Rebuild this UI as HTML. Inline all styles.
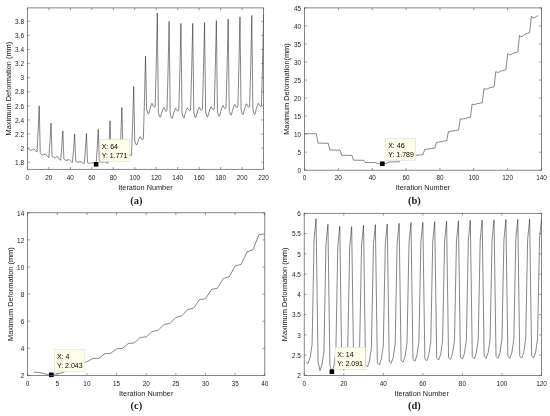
<!DOCTYPE html>
<html><head><meta charset="utf-8"><title>Figure</title>
<style>
html,body{margin:0;padding:0;background:#fff;}
body{width:550px;height:416px;overflow:hidden;}
svg{display:block;font-family:"Liberation Sans",sans-serif;}
</style></head><body>
<svg width="550" height="416" viewBox="0 0 550 416">
<rect width="550" height="416" fill="#fff"/>
<polyline points="27.40,147.24 28.47,148.86 29.55,149.99 30.62,150.41 31.69,150.06 32.77,149.42 33.84,148.86 34.92,150.13 35.99,151.19 37.06,151.89 38.14,131.18 39.21,105.87 40.28,153.16 41.36,154.43 42.43,155.00 43.50,154.78 44.58,154.08 45.65,153.95 46.73,155.48 47.80,156.74 48.87,157.53 49.95,142.05 51.02,123.14 52.09,155.77 53.17,157.10 54.24,157.69 55.31,157.46 56.39,156.73 57.46,156.59 58.54,158.20 59.61,159.52 60.68,160.35 61.76,147.09 62.83,130.89 63.90,159.08 64.98,160.00 66.05,160.41 67.12,160.25 68.20,159.75 69.27,159.65 70.35,160.76 71.42,161.68 72.49,162.25 73.57,149.57 74.64,134.06 75.71,161.19 76.79,161.91 77.86,162.23 78.93,162.11 80.01,161.71 81.08,161.64 82.16,162.50 83.23,163.22 84.30,163.66 85.38,150.12 86.45,133.57 87.52,162.46 88.60,162.99 89.67,163.23 90.74,163.14 91.82,162.85 92.89,162.79 93.97,163.43 95.04,163.97 96.11,164.30 97.19,148.53 98.26,129.27 99.33,161.55 100.41,162.06 101.48,162.29 102.55,162.20 103.63,161.92 104.70,161.86 105.78,162.48 106.85,162.99 107.92,163.31 109.00,144.18 110.07,120.81 111.14,158.73 112.22,159.14 113.29,159.32 114.36,159.25 115.44,159.02 116.51,158.98 117.59,159.48 118.66,159.88 119.73,160.14 120.81,136.45 121.88,107.49 122.95,154.85 124.03,154.99 125.10,155.06 126.17,155.03 127.25,154.96 128.32,154.94 129.40,155.11 130.47,155.26 131.54,155.34 132.62,124.36 133.69,86.49 134.76,140.90 135.84,144.39 136.91,144.84 137.98,141.46 139.06,138.75 140.13,136.67 141.21,138.22 142.28,139.77 143.35,138.92 144.43,101.66 145.50,56.11 146.57,108.73 147.65,113.25 148.72,113.83 149.79,109.46 150.87,105.96 151.94,103.26 153.02,105.27 154.09,107.28 155.16,106.43 156.24,64.41 157.31,13.05 158.38,112.48 159.46,116.61 160.53,117.14 161.60,113.15 162.68,109.95 163.75,107.49 164.83,109.50 165.90,111.51 166.97,110.66 168.05,70.44 169.12,21.29 170.19,113.44 171.27,117.72 172.34,118.27 173.41,114.13 174.49,110.82 175.56,108.26 176.64,109.71 177.71,111.15 178.78,110.31 179.86,71.20 180.93,23.41 182.00,113.02 183.08,117.30 184.15,117.85 185.22,113.71 186.30,110.39 187.37,107.84 188.45,109.32 189.52,110.80 190.59,109.96 191.67,71.01 192.74,23.41 193.81,112.53 194.89,116.87 195.96,117.43 197.03,113.23 198.11,109.87 199.18,107.28 200.26,108.83 201.33,110.38 202.40,109.53 203.48,70.36 204.55,22.49 205.62,111.93 206.70,116.30 207.77,116.86 208.84,112.63 209.92,109.25 210.99,106.64 212.07,108.26 213.14,109.89 214.21,109.04 215.29,69.24 216.36,20.59 217.43,111.02 218.51,115.63 219.58,116.23 220.65,111.77 221.73,108.20 222.80,105.44 223.88,107.07 224.95,108.69 226.02,107.84 227.10,67.85 228.17,18.97 229.24,109.89 230.32,114.38 231.39,114.96 232.46,110.61 233.54,107.14 234.61,104.46 235.69,106.08 236.76,107.70 237.83,106.85 238.91,66.32 239.98,16.78 241.05,109.33 242.13,113.94 243.20,114.54 244.27,110.07 245.35,106.50 246.42,103.75 247.50,105.52 248.57,107.28 249.64,106.43 250.72,65.52 251.79,15.51 252.86,108.98 253.94,113.71 255.01,114.33 256.08,109.75 257.16,106.08 258.23,103.26 259.31,104.95 260.38,106.64 261.45,105.80 262.53,64.60 263.60,14.24" fill="none" stroke="#222" stroke-width="0.55" stroke-linejoin="round"/>
<rect x="100.00" y="139.30" width="29.40" height="22.30" fill="#fdfdea" stroke="#d8d8cc" stroke-width="0.5"/>
<text x="101.65" y="149.20" font-size="7.0" fill="#000">X: 64</text>
<text x="101.65" y="157.90" font-size="7.0" fill="#000">Y: 1.771</text>
<rect x="93.81" y="162.00" width="4.6" height="4.6" fill="#000"/>
<rect x="27.40" y="7.90" width="236.20" height="161.40" fill="none" stroke="#555" stroke-width="0.7"/>
<text x="27.40" y="179.70" font-size="6.4" text-anchor="middle" fill="#1a1a1a">0</text>
<text x="48.87" y="179.70" font-size="6.4" text-anchor="middle" fill="#1a1a1a">20</text>
<text x="70.35" y="179.70" font-size="6.4" text-anchor="middle" fill="#1a1a1a">40</text>
<text x="91.82" y="179.70" font-size="6.4" text-anchor="middle" fill="#1a1a1a">60</text>
<text x="113.29" y="179.70" font-size="6.4" text-anchor="middle" fill="#1a1a1a">80</text>
<text x="134.76" y="179.70" font-size="6.4" text-anchor="middle" fill="#1a1a1a">100</text>
<text x="156.24" y="179.70" font-size="6.4" text-anchor="middle" fill="#1a1a1a">120</text>
<text x="177.71" y="179.70" font-size="6.4" text-anchor="middle" fill="#1a1a1a">140</text>
<text x="199.18" y="179.70" font-size="6.4" text-anchor="middle" fill="#1a1a1a">160</text>
<text x="220.65" y="179.70" font-size="6.4" text-anchor="middle" fill="#1a1a1a">180</text>
<text x="242.13" y="179.70" font-size="6.4" text-anchor="middle" fill="#1a1a1a">200</text>
<text x="263.60" y="179.70" font-size="6.4" text-anchor="middle" fill="#1a1a1a">220</text>
<text x="24.00" y="164.95" font-size="6.4" text-anchor="end" fill="#1a1a1a">1.8</text>
<text x="24.00" y="150.86" font-size="6.4" text-anchor="end" fill="#1a1a1a">2</text>
<text x="24.00" y="136.76" font-size="6.4" text-anchor="end" fill="#1a1a1a">2.2</text>
<text x="24.00" y="122.66" font-size="6.4" text-anchor="end" fill="#1a1a1a">2.4</text>
<text x="24.00" y="108.57" font-size="6.4" text-anchor="end" fill="#1a1a1a">2.6</text>
<text x="24.00" y="94.47" font-size="6.4" text-anchor="end" fill="#1a1a1a">2.8</text>
<text x="24.00" y="80.38" font-size="6.4" text-anchor="end" fill="#1a1a1a">3</text>
<text x="24.00" y="66.28" font-size="6.4" text-anchor="end" fill="#1a1a1a">3.2</text>
<text x="24.00" y="52.18" font-size="6.4" text-anchor="end" fill="#1a1a1a">3.4</text>
<text x="24.00" y="38.09" font-size="6.4" text-anchor="end" fill="#1a1a1a">3.6</text>
<text x="24.00" y="23.99" font-size="6.4" text-anchor="end" fill="#1a1a1a">3.8</text>
<path d="M27.40,169.30v-2.3M27.40,7.90v2.3M48.87,169.30v-2.3M48.87,7.90v2.3M70.35,169.30v-2.3M70.35,7.90v2.3M91.82,169.30v-2.3M91.82,7.90v2.3M113.29,169.30v-2.3M113.29,7.90v2.3M134.76,169.30v-2.3M134.76,7.90v2.3M156.24,169.30v-2.3M156.24,7.90v2.3M177.71,169.30v-2.3M177.71,7.90v2.3M199.18,169.30v-2.3M199.18,7.90v2.3M220.65,169.30v-2.3M220.65,7.90v2.3M242.13,169.30v-2.3M242.13,7.90v2.3M263.60,169.30v-2.3M263.60,7.90v2.3M27.40,162.25h2.3M263.60,162.25h-2.3M27.40,148.16h2.3M263.60,148.16h-2.3M27.40,134.06h2.3M263.60,134.06h-2.3M27.40,119.96h2.3M263.60,119.96h-2.3M27.40,105.87h2.3M263.60,105.87h-2.3M27.40,91.77h2.3M263.60,91.77h-2.3M27.40,77.68h2.3M263.60,77.68h-2.3M27.40,63.58h2.3M263.60,63.58h-2.3M27.40,49.48h2.3M263.60,49.48h-2.3M27.40,35.39h2.3M263.60,35.39h-2.3M27.40,21.29h2.3M263.60,21.29h-2.3" stroke="#555" stroke-width="0.6" fill="none"/>
<text x="145.50" y="189.90" font-size="7.3" text-anchor="middle" fill="#1a1a1a">Iteration Number</text>
<text transform="translate(10.50,88.60) rotate(-90)" font-size="7.4" text-anchor="middle" fill="#1a1a1a">Maximum Deformation (mm)</text>
<text x="136.30" y="204.00" font-size="10.5" font-weight="bold" text-anchor="middle" fill="#222" style="font-family:'Liberation Serif',serif">(a)</text>
<polyline points="304.50,133.66 306.19,133.68 307.89,133.70 309.58,133.71 311.27,133.73 312.96,133.74 314.66,133.76 316.35,133.77 318.04,143.15 319.74,143.17 321.43,143.20 323.12,143.22 324.81,143.25 326.51,143.27 328.20,143.29 329.89,150.00 331.59,150.03 333.28,150.05 334.97,150.07 336.66,150.10 338.36,150.12 340.05,150.15 341.74,155.27 343.44,155.28 345.13,155.29 346.82,155.30 348.51,155.32 350.21,155.33 351.90,155.34 353.59,160.17 355.29,160.20 356.98,160.22 358.67,160.25 360.36,160.27 362.06,160.29 363.75,160.32 365.44,162.52 367.14,162.53 368.83,162.54 370.52,162.55 372.21,162.57 373.91,162.58 375.60,162.59 377.29,163.24 378.99,163.64 380.68,163.71 382.37,163.75 384.06,163.71 385.76,163.49 387.45,162.91 389.14,161.98 390.84,161.95 392.53,161.92 394.22,161.89 395.91,161.86 397.61,161.83 399.30,161.80 400.99,159.38 402.69,159.29 404.38,159.20 406.07,159.11 407.76,159.02 409.46,158.93 411.15,158.84 412.84,155.77 414.54,155.57 416.23,155.38 417.92,155.18 419.61,154.98 421.31,154.78 423.00,154.58 424.69,149.53 426.39,149.28 428.08,149.03 429.77,148.78 431.46,148.52 433.16,148.27 434.85,148.02 436.54,142.54 438.24,142.22 439.93,141.91 441.62,141.60 443.31,141.29 445.01,140.97 446.70,140.66 448.39,131.75 450.09,131.48 451.78,131.20 453.47,130.92 455.16,130.65 456.86,130.37 458.55,130.09 460.24,118.95 461.94,119.09 463.63,118.79 465.32,118.23 467.01,117.88 468.71,117.53 470.40,117.18 472.09,104.13 473.79,104.48 475.48,104.26 477.17,103.68 478.86,103.38 480.56,103.09 482.25,102.79 483.94,88.58 485.64,89.15 487.33,88.85 489.02,88.00 490.71,87.60 492.41,87.19 494.10,86.78 495.79,71.59 497.49,72.44 499.18,72.12 500.87,71.09 502.56,70.63 504.26,70.18 505.95,69.72 507.64,53.70 509.34,54.85 511.03,54.55 512.72,53.34 514.41,52.86 516.11,52.38 517.80,51.90 519.49,35.45 521.19,36.68 522.88,36.18 524.57,34.59 526.26,33.87 527.96,33.15 529.65,32.43 531.34,16.34 533.04,17.84 534.73,17.60 536.42,16.29 538.11,15.83" fill="none" stroke="#222" stroke-width="0.55" stroke-linejoin="round"/>
<rect x="385.10" y="138.50" width="30.50" height="22.20" fill="#fdfdea" stroke="#d8d8cc" stroke-width="0.5"/>
<text x="388.20" y="148.40" font-size="7.0" fill="#000">X: 46</text>
<text x="388.20" y="157.10" font-size="7.0" fill="#000">Y: 1.789</text>
<rect x="380.07" y="161.45" width="4.6" height="4.6" fill="#000"/>
<rect x="304.50" y="7.90" width="237.00" height="162.30" fill="none" stroke="#555" stroke-width="0.7"/>
<text x="304.50" y="180.40" font-size="6.4" text-anchor="middle" fill="#1a1a1a">0</text>
<text x="338.36" y="180.40" font-size="6.4" text-anchor="middle" fill="#1a1a1a">20</text>
<text x="372.21" y="180.40" font-size="6.4" text-anchor="middle" fill="#1a1a1a">40</text>
<text x="406.07" y="180.40" font-size="6.4" text-anchor="middle" fill="#1a1a1a">60</text>
<text x="439.93" y="180.40" font-size="6.4" text-anchor="middle" fill="#1a1a1a">80</text>
<text x="473.79" y="180.40" font-size="6.4" text-anchor="middle" fill="#1a1a1a">100</text>
<text x="507.64" y="180.40" font-size="6.4" text-anchor="middle" fill="#1a1a1a">120</text>
<text x="541.50" y="180.40" font-size="6.4" text-anchor="middle" fill="#1a1a1a">140</text>
<text x="301.10" y="172.90" font-size="6.4" text-anchor="end" fill="#1a1a1a">0</text>
<text x="301.10" y="154.87" font-size="6.4" text-anchor="end" fill="#1a1a1a">5</text>
<text x="301.10" y="136.83" font-size="6.4" text-anchor="end" fill="#1a1a1a">10</text>
<text x="301.10" y="118.80" font-size="6.4" text-anchor="end" fill="#1a1a1a">15</text>
<text x="301.10" y="100.77" font-size="6.4" text-anchor="end" fill="#1a1a1a">20</text>
<text x="301.10" y="82.73" font-size="6.4" text-anchor="end" fill="#1a1a1a">25</text>
<text x="301.10" y="64.70" font-size="6.4" text-anchor="end" fill="#1a1a1a">30</text>
<text x="301.10" y="46.67" font-size="6.4" text-anchor="end" fill="#1a1a1a">35</text>
<text x="301.10" y="28.63" font-size="6.4" text-anchor="end" fill="#1a1a1a">40</text>
<text x="301.10" y="10.60" font-size="6.4" text-anchor="end" fill="#1a1a1a">45</text>
<path d="M304.50,170.20v-2.3M304.50,7.90v2.3M338.36,170.20v-2.3M338.36,7.90v2.3M372.21,170.20v-2.3M372.21,7.90v2.3M406.07,170.20v-2.3M406.07,7.90v2.3M439.93,170.20v-2.3M439.93,7.90v2.3M473.79,170.20v-2.3M473.79,7.90v2.3M507.64,170.20v-2.3M507.64,7.90v2.3M541.50,170.20v-2.3M541.50,7.90v2.3M304.50,170.20h2.3M541.50,170.20h-2.3M304.50,152.17h2.3M541.50,152.17h-2.3M304.50,134.13h2.3M541.50,134.13h-2.3M304.50,116.10h2.3M541.50,116.10h-2.3M304.50,98.07h2.3M541.50,98.07h-2.3M304.50,80.03h2.3M541.50,80.03h-2.3M304.50,62.00h2.3M541.50,62.00h-2.3M304.50,43.97h2.3M541.50,43.97h-2.3M304.50,25.93h2.3M541.50,25.93h-2.3M304.50,7.90h2.3M541.50,7.90h-2.3" stroke="#555" stroke-width="0.6" fill="none"/>
<text x="423.00" y="190.10" font-size="7.3" text-anchor="middle" fill="#1a1a1a">Iteration Number</text>
<text transform="translate(289.40,89.05) rotate(-90)" font-size="7.4" text-anchor="middle" fill="#1a1a1a">Maximum Deformation(mm)</text>
<text x="414.40" y="204.00" font-size="10.5" font-weight="bold" text-anchor="middle" fill="#222" style="font-family:'Liberation Serif',serif">(b)</text>
<polyline points="33.53,372.20 39.46,372.42 45.39,374.04 51.32,374.82 57.25,373.77 63.18,372.55 69.11,368.62 75.04,367.54 80.97,362.80 86.90,361.85 92.83,358.49 98.76,358.29 104.69,353.88 110.62,353.29 116.55,348.88 122.48,348.30 128.41,343.48 134.34,342.88 140.27,337.46 146.20,336.88 152.13,331.47 158.06,330.47 163.99,324.45 169.92,323.46 175.85,317.46 181.78,315.86 187.71,309.45 193.64,308.19 199.57,299.44 205.50,298.84 211.43,289.44 217.36,288.23 223.29,278.42 229.22,276.82 235.15,265.82 241.08,264.43 247.01,251.82 252.94,249.79 258.87,234.79 264.80,233.80" fill="none" stroke="#222" stroke-width="0.55" stroke-linejoin="round"/>
<rect x="54.40" y="349.30" width="30.50" height="22.60" fill="#fdfdea" stroke="#d8d8cc" stroke-width="0.5"/>
<text x="56.90" y="359.20" font-size="7.0" fill="#000">X: 4</text>
<text x="56.90" y="367.90" font-size="7.0" fill="#000">Y: 2.043</text>
<rect x="49.02" y="372.52" width="4.6" height="4.6" fill="#000"/>
<rect x="27.60" y="212.80" width="237.20" height="162.60" fill="none" stroke="#555" stroke-width="0.7"/>
<text x="27.60" y="385.80" font-size="6.4" text-anchor="middle" fill="#1a1a1a">0</text>
<text x="57.25" y="385.80" font-size="6.4" text-anchor="middle" fill="#1a1a1a">5</text>
<text x="86.90" y="385.80" font-size="6.4" text-anchor="middle" fill="#1a1a1a">10</text>
<text x="116.55" y="385.80" font-size="6.4" text-anchor="middle" fill="#1a1a1a">15</text>
<text x="146.20" y="385.80" font-size="6.4" text-anchor="middle" fill="#1a1a1a">20</text>
<text x="175.85" y="385.80" font-size="6.4" text-anchor="middle" fill="#1a1a1a">25</text>
<text x="205.50" y="385.80" font-size="6.4" text-anchor="middle" fill="#1a1a1a">30</text>
<text x="235.15" y="385.80" font-size="6.4" text-anchor="middle" fill="#1a1a1a">35</text>
<text x="264.80" y="385.80" font-size="6.4" text-anchor="middle" fill="#1a1a1a">40</text>
<text x="24.20" y="378.10" font-size="6.4" text-anchor="end" fill="#1a1a1a">2</text>
<text x="24.20" y="351.00" font-size="6.4" text-anchor="end" fill="#1a1a1a">4</text>
<text x="24.20" y="323.90" font-size="6.4" text-anchor="end" fill="#1a1a1a">6</text>
<text x="24.20" y="296.80" font-size="6.4" text-anchor="end" fill="#1a1a1a">8</text>
<text x="24.20" y="269.70" font-size="6.4" text-anchor="end" fill="#1a1a1a">10</text>
<text x="24.20" y="242.60" font-size="6.4" text-anchor="end" fill="#1a1a1a">12</text>
<text x="24.20" y="215.50" font-size="6.4" text-anchor="end" fill="#1a1a1a">14</text>
<path d="M27.60,375.40v-2.3M27.60,212.80v2.3M57.25,375.40v-2.3M57.25,212.80v2.3M86.90,375.40v-2.3M86.90,212.80v2.3M116.55,375.40v-2.3M116.55,212.80v2.3M146.20,375.40v-2.3M146.20,212.80v2.3M175.85,375.40v-2.3M175.85,212.80v2.3M205.50,375.40v-2.3M205.50,212.80v2.3M235.15,375.40v-2.3M235.15,212.80v2.3M264.80,375.40v-2.3M264.80,212.80v2.3M27.60,375.40h2.3M264.80,375.40h-2.3M27.60,348.30h2.3M264.80,348.30h-2.3M27.60,321.20h2.3M264.80,321.20h-2.3M27.60,294.10h2.3M264.80,294.10h-2.3M27.60,267.00h2.3M264.80,267.00h-2.3M27.60,239.90h2.3M264.80,239.90h-2.3M27.60,212.80h2.3M264.80,212.80h-2.3" stroke="#555" stroke-width="0.6" fill="none"/>
<text x="146.20" y="395.70" font-size="7.3" text-anchor="middle" fill="#1a1a1a">Iteration Number</text>
<text transform="translate(13.10,294.10) rotate(-90)" font-size="7.4" text-anchor="middle" fill="#1a1a1a">Maximum Deformation (mm)</text>
<text x="136.30" y="409.00" font-size="10.5" font-weight="bold" text-anchor="middle" fill="#222" style="font-family:'Liberation Serif',serif">(c)</text>
<polyline points="306.18,362.72 308.15,363.24 310.13,357.57 312.11,344.20 314.09,238.91 316.06,218.65 318.04,361.70 320.02,370.62 322.00,364.26 323.97,351.08 325.95,244.50 327.93,224.24 329.91,365.63 331.88,371.71 333.86,366.04 335.84,352.67 337.82,246.53 339.79,226.27 341.77,366.48 343.75,370.54 345.73,364.86 347.70,351.49 349.68,246.81 351.66,226.55 353.64,365.27 355.62,368.51 357.59,362.84 359.57,349.46 361.55,245.56 363.52,225.30 365.50,364.70 367.48,366.73 369.46,361.05 371.44,347.68 373.41,244.99 375.39,224.73 377.37,362.84 379.34,364.86 381.32,359.19 383.30,345.82 385.28,244.26 387.25,224.00 389.23,361.22 391.21,363.24 393.19,357.57 395.16,344.20 397.14,243.69 399.12,223.43 401.10,360.12 403.07,362.15 405.05,356.47 407.03,343.10 409.01,242.80 410.99,222.54 412.96,359.19 414.94,361.22 416.92,355.54 418.89,342.17 420.87,242.48 422.85,222.22 424.83,358.70 426.81,360.73 428.78,355.06 430.76,341.68 432.74,241.91 434.72,221.65 436.69,357.97 438.67,360.00 440.65,354.33 442.62,340.95 444.60,241.34 446.58,221.08 448.56,357.41 450.53,359.43 452.51,353.76 454.49,340.39 456.47,240.98 458.44,220.72 460.42,357.16 462.40,359.19 464.38,353.52 466.36,340.14 468.33,240.61 470.31,220.35 472.29,356.76 474.26,358.78 476.24,353.11 478.22,339.74 480.20,240.25 482.17,219.99 484.15,356.35 486.13,358.38 488.11,352.71 490.08,339.33 492.06,240.05 494.04,219.78 496.02,356.35 498.00,358.38 499.97,352.71 501.95,339.33 503.93,239.72 505.90,219.46 507.88,356.27 509.86,358.30 511.84,352.62 513.82,339.25 515.79,239.56 517.77,219.30 519.75,356.15 521.73,358.18 523.70,352.50 525.68,339.13 527.66,239.20 529.63,218.93 531.61,355.95 533.59,357.97 535.57,352.30 537.54,338.93 539.52,238.83 541.50,218.57" fill="none" stroke="#222" stroke-width="0.55" stroke-linejoin="round"/>
<rect x="335.00" y="347.20" width="30.50" height="22.50" fill="#fdfdea" stroke="#d8d8cc" stroke-width="0.5"/>
<text x="337.30" y="357.10" font-size="7.0" fill="#000">X: 14</text>
<text x="337.30" y="365.80" font-size="7.0" fill="#000">Y: 2.091</text>
<rect x="329.58" y="369.41" width="4.6" height="4.6" fill="#000"/>
<rect x="304.20" y="213.30" width="237.30" height="162.10" fill="none" stroke="#555" stroke-width="0.7"/>
<text x="304.20" y="386.00" font-size="6.4" text-anchor="middle" fill="#1a1a1a">0</text>
<text x="343.75" y="386.00" font-size="6.4" text-anchor="middle" fill="#1a1a1a">20</text>
<text x="383.30" y="386.00" font-size="6.4" text-anchor="middle" fill="#1a1a1a">40</text>
<text x="422.85" y="386.00" font-size="6.4" text-anchor="middle" fill="#1a1a1a">60</text>
<text x="462.40" y="386.00" font-size="6.4" text-anchor="middle" fill="#1a1a1a">80</text>
<text x="501.95" y="386.00" font-size="6.4" text-anchor="middle" fill="#1a1a1a">100</text>
<text x="541.50" y="386.00" font-size="6.4" text-anchor="middle" fill="#1a1a1a">120</text>
<text x="300.80" y="378.10" font-size="6.4" text-anchor="end" fill="#1a1a1a">2</text>
<text x="300.80" y="357.84" font-size="6.4" text-anchor="end" fill="#1a1a1a">2.5</text>
<text x="300.80" y="337.57" font-size="6.4" text-anchor="end" fill="#1a1a1a">3</text>
<text x="300.80" y="317.31" font-size="6.4" text-anchor="end" fill="#1a1a1a">3.5</text>
<text x="300.80" y="297.05" font-size="6.4" text-anchor="end" fill="#1a1a1a">4</text>
<text x="300.80" y="276.79" font-size="6.4" text-anchor="end" fill="#1a1a1a">4.5</text>
<text x="300.80" y="256.52" font-size="6.4" text-anchor="end" fill="#1a1a1a">5</text>
<text x="300.80" y="236.26" font-size="6.4" text-anchor="end" fill="#1a1a1a">5.5</text>
<text x="300.80" y="216.00" font-size="6.4" text-anchor="end" fill="#1a1a1a">6</text>
<path d="M304.20,375.40v-2.3M304.20,213.30v2.3M343.75,375.40v-2.3M343.75,213.30v2.3M383.30,375.40v-2.3M383.30,213.30v2.3M422.85,375.40v-2.3M422.85,213.30v2.3M462.40,375.40v-2.3M462.40,213.30v2.3M501.95,375.40v-2.3M501.95,213.30v2.3M541.50,375.40v-2.3M541.50,213.30v2.3M304.20,375.40h2.3M541.50,375.40h-2.3M304.20,355.14h2.3M541.50,355.14h-2.3M304.20,334.88h2.3M541.50,334.88h-2.3M304.20,314.61h2.3M541.50,314.61h-2.3M304.20,294.35h2.3M541.50,294.35h-2.3M304.20,274.09h2.3M541.50,274.09h-2.3M304.20,253.82h2.3M541.50,253.82h-2.3M304.20,233.56h2.3M541.50,233.56h-2.3M304.20,213.30h2.3M541.50,213.30h-2.3" stroke="#555" stroke-width="0.6" fill="none"/>
<text x="421.65" y="396.00" font-size="7.3" text-anchor="middle" fill="#1a1a1a">Iteration Number</text>
<text transform="translate(287.20,294.35) rotate(-90)" font-size="7.4" text-anchor="middle" fill="#1a1a1a">Maximum Deformation (mm)</text>
<text x="414.40" y="409.10" font-size="10.5" font-weight="bold" text-anchor="middle" fill="#222" style="font-family:'Liberation Serif',serif">(d)</text>
</svg>
</body></html>
